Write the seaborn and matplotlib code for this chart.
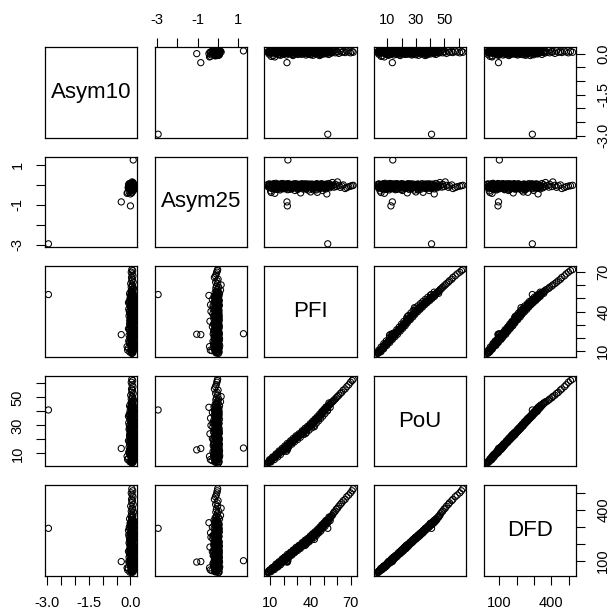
import matplotlib
matplotlib.use("Agg")
import matplotlib.pyplot as plt
import numpy as np
import pandas as pd
import seaborn as sns

sns.set_theme(style="white")
plt.rcParams["font.family"] = ["Liberation Sans", "DejaVu Sans"]

PFI = [8.2, 8.7, 9.2, 9.6, 10.3, 10.7, 11.1, 11.6, 12.1, 12.4, 12.9, 13.4, 13.8, 14.1, 14.6,
       15.0, 15.4, 15.8, 16.2, 16.7, 17.1, 17.4, 17.8, 18.3, 18.7, 19.1, 19.4, 19.8, 20.2,
       20.7, 21.1, 21.5, 22.1, 22.6, 23.0, 23.6, 22.5, 22.8, 23.2, 24.1, 24.5, 25.0, 25.5,
       25.9, 26.5, 27.0, 27.5, 28.0, 28.5, 29.0, 29.5, 30.1, 30.6, 31.2, 31.6, 32.2, 32.7,
       33.2, 33.7, 34.2, 34.7, 35.3, 35.7, 36.3, 36.7, 37.3, 37.7, 38.3, 38.7, 39.2, 39.7,
       40.2, 40.6, 41.1, 41.5, 42.0, 42.4, 42.9, 43.3, 43.8, 44.3, 44.7, 45.2, 45.6, 46.0,
       46.4, 46.8, 47.2, 47.6, 48.0, 48.4, 48.8, 49.2, 49.6, 50.0, 50.4, 50.8, 51.2, 51.6,
       52.0, 52.3, 52.8, 53.2, 53.7, 54.1, 54.7, 55.2, 55.7, 56.4, 57.0, 53.0, 57.7, 58.6,
       59.4, 60.3, 61.3, 62.4, 63.5, 64.6, 66.0, 67.2, 68.7, 70.0, 71.2, 72.0,
       8.6, 9.9, 11.4, 12.8, 13.6, 14.8, 16.0, 16.9, 18.1, 19.3, 20.3, 21.4, 22.4, 23.4,
       24.3, 25.8, 26.8, 27.8, 28.8, 29.8, 30.9, 31.9, 33.0, 34.0, 35.1, 36.1, 37.1, 38.1,
       39.1, 40.0, 40.9, 41.8, 42.7, 43.6, 44.5, 45.4, 46.2, 47.0, 47.8, 48.6, 49.4, 50.2,
       51.0, 51.7, 52.5, 43.0, 22.1, 36.2,
       9.5, 10.6, 11.7, 13.1, 14.3, 15.6, 16.6, 17.7, 18.9, 20.0, 20.9, 21.8, 22.8, 23.8,
       25.2, 26.2, 27.2, 28.2, 29.3, 30.5, 31.5, 32.5, 33.9, 34.9, 36.0, 37.0, 37.9, 38.9,
       39.9, 40.8, 41.7, 42.6, 43.5, 44.4, 45.3, 46.1, 46.9, 47.7, 48.5, 49.3, 50.1, 50.9,
       51.6, 52.7, 53.9, 54.8]
PoU = [3.1, 3.8, 4.0, 4.6, 4.9, 5.6, 5.4, 6.2, 6.4, 7.1, 7.0, 7.9, 7.6, 8.4, 8.9,
       8.7, 9.5, 9.3, 10.1, 10.0, 10.8, 11.2, 10.9, 11.8, 12.1, 11.9, 12.8, 13.0, 13.6,
       13.4, 14.2, 14.6, 14.5, 15.3, 15.6, 16.2, 13.5, 12.5, 13.8, 16.9, 17.0, 17.6, 18.0,
       18.2, 18.9, 19.0, 19.7, 20.0, 20.6, 20.8, 21.5, 21.6, 22.3, 22.5, 23.2, 23.1, 24.0,
       24.2, 24.7, 25.3, 25.2, 26.0, 26.3, 26.8, 27.2, 27.6, 27.9, 28.7, 28.6, 29.4, 29.8,
       30.0, 30.8, 31.0, 31.7, 31.9, 32.6, 32.8, 33.3, 33.6, 34.2, 34.4, 35.1, 35.3, 35.9,
       36.4, 36.5, 37.2, 37.5, 38.1, 38.2, 39.0, 39.3, 39.8, 40.2, 40.6, 41.2, 41.4, 42.0,
       42.3, 42.9, 43.1, 43.8, 44.0, 44.7, 45.0, 45.8, 46.1, 46.9, 47.2, 41.0, 48.1, 48.8,
       49.7, 50.6, 51.5, 52.8, 53.6, 55.2, 56.0, 57.6, 59.0, 60.8, 62.0, 63.0,
       3.5, 4.2, 5.9, 6.7, 7.3, 8.2, 9.8, 10.4, 11.3, 12.3, 13.2, 14.0, 14.9, 15.7,
       16.5, 17.4, 18.6, 19.5, 20.1, 21.0, 21.9, 22.7, 23.6, 24.5, 25.6, 26.1, 27.0, 28.2,
       28.9, 29.9, 30.3, 31.5, 32.0, 33.0, 34.0, 34.6, 35.8, 36.8, 37.3, 38.6, 39.6, 40.0,
       41.0, 42.1, 43.0, 29.0, 11.5, 24.0,
       5.5, 3.9, 7.4, 5.6, 9.6, 7.5, 11.7, 9.2, 13.5, 11.4, 15.3, 13.0, 17.1, 14.6,
       19.0, 16.6, 20.7, 18.3, 22.5, 19.9, 24.0, 21.5, 26.1, 23.5, 27.9, 24.8, 29.3, 26.5,
       31.2, 28.1, 32.9, 29.8, 34.6, 31.5, 36.3, 33.2, 38.0, 34.9, 39.8, 36.6, 41.4, 38.4,
       43.1, 40.3, 46.0, 42.8]
DFD = [30, 38, 33, 44, 42, 46, 55, 47, 59, 55, 65, 58, 70, 64, 75,
       66, 82, 68, 88, 76, 92, 84, 96, 88, 101, 93, 110, 96, 115,
       101, 120, 108, 121, 115, 130, 121, 95, 92, 100, 136, 126, 145, 138,
       148, 140, 155, 148, 163, 153, 168, 160, 176, 168, 182, 172, 189, 180,
       194, 186, 202, 190, 208, 200, 213, 205, 222, 211, 228, 217, 235, 225,
       238, 232, 246, 240, 252, 245, 259, 252, 265, 258, 271, 264, 279, 272,
       285, 278, 292, 284, 298, 290, 305, 297, 312, 305, 318, 312, 325, 318,
       330, 323, 337, 332, 345, 340, 352, 355, 362, 366, 375, 290, 385, 390,
       402, 408, 420, 430, 440, 452, 460, 475, 485, 498, 510, 522,
       34, 40, 52, 57, 62, 71, 79, 86, 94, 99, 108, 111, 120, 124,
       133, 139, 149, 151, 160, 167, 172, 180, 186, 196, 200, 209, 212, 223,
       225, 236, 237, 243, 252, 257, 265, 270, 278, 287, 290, 303, 306, 318,
       316, 330, 334, 225, 95, 190,
       45, 36, 60, 48, 80, 63, 94, 76, 110, 92, 122, 105, 137, 120,
       150, 133, 163, 147, 178, 160, 190, 172, 206, 187, 220, 198, 230, 210,
       245, 222, 258, 236, 270, 247, 283, 262, 296, 273, 310, 290, 322, 301,
       336, 318, 356, 335]
Asym10 = [0.05, 0.08, -0.02, 0.10, 0.03, -0.10, 0.06, 0.12, -0.08, 0.04, 0.09, -0.12, 0.02, 0.07, 0.11,
          0.00, 0.05, 0.08, -0.04, 0.10, 0.03, 0.07, -0.06, 0.12, 0.01, 0.06, 0.09, -0.02, 0.04,
          0.11, 0.02, 0.07, -0.05, 0.10, 0.03, 0.08, -0.33, 0.00, 0.10, 0.05, 0.12, -0.01, 0.06,
          0.09, 0.02, -0.07, 0.11, 0.04, 0.08, 0.00, 0.06, 0.10, -0.03, 0.07, 0.12, 0.03, 0.05,
          -0.02, 0.09, 0.04, 0.11, 0.01, 0.06, 0.08, -0.05, 0.10, 0.03, 0.07, 0.00, 0.12, 0.05,
          -0.04, 0.08, 0.02, 0.10, -0.06, 0.06, 0.11, 0.03, 0.07, -0.02, 0.09, 0.04, 0.12, 0.01,
          0.06, -0.07, 0.10, 0.05, -0.04, 0.08, 0.02, 0.11, 0.04, 0.07, -0.01, 0.09, 0.03, 0.06,
          0.12, 0.00, 0.05, 0.08, -0.03, 0.10, 0.04, 0.07, 0.02, 0.09, 0.05, -2.95, 0.11, 0.03,
          0.08, 0.06, 0.01, 0.10, 0.05, 0.07, 0.04, 0.09, 0.06, 0.03, 0.08, 0.05,
          0.07, 0.02, 0.09, 0.05, 0.11, 0.04, 0.08, -0.03, 0.06, 0.10, 0.01, 0.08, 0.04, 0.12,
          0.03, 0.07, -0.04, 0.09, 0.05, 0.02, 0.11, 0.06, -0.01, 0.08, 0.03, 0.10, 0.05, -0.02,
          0.07, 0.12, 0.04, 0.08, 0.01, 0.06, 0.10, 0.03, 0.07, -0.03, 0.09, 0.05, 0.02, 0.11,
          0.06, 0.04, 0.08, 0.05, 0.07, 0.02,
          0.06, 0.10, 0.02, 0.08, 0.04, 0.11, -0.02, 0.07, 0.03, 0.09, 0.05, 0.12, 0.01, 0.06,
          0.08, -0.03, 0.10, 0.04, 0.07, 0.02, 0.11, 0.05, -0.01, 0.09, 0.03, 0.06, 0.12, 0.04,
          0.08, -0.02, 0.06, 0.10, 0.03, 0.07, 0.05, 0.11, 0.01, 0.08, 0.04, 0.09, 0.06, 0.02,
          0.10, 0.05, 0.07, 0.03]
Asym25 = [0.02, -0.05, 0.05, -0.12, -0.30, -0.38, 0.00, -0.08, -0.15, 0.06, -0.20, -0.42, -0.03, 0.08, -0.10,
          -0.22, 0.03, -0.06, -0.14, 0.01, -0.09, -0.25, 0.04, -0.02, -0.17, 0.07, -0.11, -0.04, 0.05,
          -0.19, -0.07, 0.02, -0.13, -0.01, -0.24, 0.06, -0.85, -1.05, 1.25, -0.03, -0.15, 0.03, -0.09,
          -0.20, 0.00, -0.11, 0.05, -0.06, -0.28, -0.02, -0.14, 0.04, -0.08, -0.18, 0.01, -0.05, -0.40,
          -0.12, 0.06, -0.03, -0.21, -0.07, 0.03, -0.15, -0.01, -0.10, 0.05, -0.26, -0.04, -0.12, 0.02,
          -0.35, -0.08, -0.16, 0.04, -0.06, -0.13, 0.00, -0.22, -0.03, -0.10, 0.06, -0.37, -0.07, -0.14,
          0.03, -0.05, -0.19, -0.02, -0.11, 0.05, -0.08, -0.28, -0.04, -0.12, 0.02, -0.09, -0.16, 0.04,
          -0.06, -0.45, -0.02, -0.10, 0.07, -0.05, -0.14, 0.01, -0.07, 0.12, -0.04, -2.95, -0.11, 0.03,
          -0.08, 0.15, -0.02, -0.12, -0.05, 0.00, -0.18, -0.13, -0.09, -0.06, -0.04, -0.02,
          -0.10, 0.03, -0.18, -0.05, 0.02, -0.13, -0.01, -0.20, 0.05, -0.08, -0.03, -0.15, 0.04, -0.06,
          -0.22, 0.01, -0.10, -0.04, 0.06, -0.16, -0.02, -0.09, 0.03, -0.13, -0.05, 0.05, -0.19, -0.03,
          -0.11, 0.02, -0.07, -0.24, 0.00, -0.12, 0.04, -0.08, -0.02, -0.15, 0.03, -0.09, -0.05, -0.17,
          0.01, -0.11, -0.04, -0.06, -0.02, -0.10,
          -0.04, -0.16, 0.02, -0.09, -0.21, 0.04, -0.06, -0.12, 0.00, -0.18, -0.03, -0.10, 0.05, -0.14,
          -0.07, -0.19, 0.01, -0.11, -0.04, -0.23, 0.03, -0.08, -0.15, 0.02, -0.06, -0.20, -0.02, -0.13,
          0.04, -0.09, -0.17, 0.00, -0.05, -0.25, 0.03, -0.10, -0.04, -0.14, 0.05, -0.07, -0.12, -0.03,
          -0.20, 0.01, -0.08, -0.02]

names = ["Asym10", "Asym25", "PFI", "PoU", "DFD"]
tick_values = {
    "Asym10": [-3.0, -2.5, -2.0, -1.5, -1.0, -0.5, 0.0],
    "Asym25": [-3, -2, -1, 0, 1],
    "PFI": [10, 20, 30, 40, 50, 60, 70],
    "PoU": [10, 20, 30, 40, 50, 60],
    "DFD": [100, 200, 300, 400, 500],
}
tick_text = {
    "Asym10": ["-3.0", "", "", "-1.5", "", "", "0.0"],
    "Asym25": ["-3", "", "-1", "", "1"],
    "PFI": ["10", "", "", "40", "", "", "70"],
    "PoU": ["10", "", "30", "", "50", ""],
    "DFD": ["100", "", "", "400", ""],
}

df = pd.DataFrame({"Asym10": Asym10, "Asym25": Asym25, "PFI": PFI, "PoU": PoU, "DFD": DFD})

lims = {}
for v in names:
    lo, hi = df[v].min(), df[v].max()
    pad = 0.04 * (hi - lo)
    lims[v] = (lo - pad, hi + pad)

fig, axes = plt.subplots(5, 5, figsize=(6.12, 6.12), dpi=100)
fig.subplots_adjust(left=45 / 612, right=576 / 612, bottom=1 - 576 / 612, top=1 - 47 / 612,
                    wspace=0.19, hspace=0.21)

tick_kw = dict(length=6.5, width=0.8, color="black", labelsize=10.5, pad=8,
               labelcolor="black", direction="out")

for i, yv in enumerate(names):
    for j, xv in enumerate(names):
        ax = axes[i, j]
        if i == j:
            ax.text(0.5, 0.5, yv, transform=ax.transAxes, ha="center", va="center",
                    fontsize=16, color="black")
        else:
            sns.scatterplot(data=df, x=xv, y=yv, ax=ax, facecolor="none", edgecolor="black",
                            linewidth=0.75, s=20, legend=False)
        ax.set_xlim(lims[xv])
        ax.set_ylim(lims[yv])
        ax.set_xlabel("")
        ax.set_ylabel("")
        ax.set_xticks([])
        ax.set_yticks([])
        for sp in ax.spines.values():
            sp.set_visible(True)
            sp.set_color("black")
            sp.set_linewidth(0.9)

        # x axes: bottom for odd columns, top for even columns (R pairs style)
        if i == 4 and j % 2 == 0:
            ax.set_xticks(tick_values[xv])
            ax.set_xticklabels(tick_text[xv])
            ax.tick_params(axis="x", bottom=True, top=False, labelbottom=True, labeltop=False, **tick_kw)
        if i == 0 and j % 2 == 1:
            ax.set_xticks(tick_values[xv])
            ax.set_xticklabels(tick_text[xv])
            ax.tick_params(axis="x", bottom=False, top=True, labelbottom=False, labeltop=True, **tick_kw)
        if j == 0 and i % 2 == 1:
            ax.set_yticks(tick_values[yv])
            ax.set_yticklabels(tick_text[yv], rotation=90, va="center")
            ax.tick_params(axis="y", left=True, right=False, labelleft=True, labelright=False, **tick_kw)
        if j == 4 and i % 2 == 0:
            ax.set_yticks(tick_values[yv])
            ax.set_yticklabels(tick_text[yv], rotation=90, va="center")
            ax.tick_params(axis="y", left=False, right=True, labelleft=False, labelright=True, **tick_kw)

fig.savefig("out.png", dpi=100, facecolor="white")
